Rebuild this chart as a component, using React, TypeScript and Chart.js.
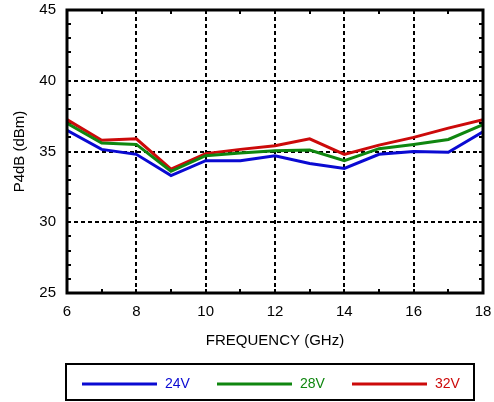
import React, { useEffect, useRef } from "react";
import { Chart, registerables } from "chart.js";

Chart.register(...registerables);

// Frequency sweep (GHz) and saturated output power at 4 dB compression (dBm)
const frequencies = [6, 7, 8, 9, 10, 11, 12, 13, 14, 15, 16, 17, 18];
const p24V = [36.5, 35.15, 34.8, 33.3, 34.35, 34.35, 34.7, 34.15, 33.8, 34.8, 35.0, 34.95, 36.4];
const p28V = [37.0, 35.6, 35.5, 33.6, 34.7, 34.9, 35.05, 35.1, 34.35, 35.2, 35.5, 35.85, 36.9];
const p32V = [37.25, 35.8, 35.9, 33.75, 34.85, 35.15, 35.4, 35.9, 34.8, 35.45, 36.0, 36.65, 37.25];

const seriesLabels = ["24V", "28V", "32V"];
const seriesColors = ["#0a0ad2", "#0f860f", "#cc0a0a"];

const X_MIN = 6;
const X_MAX = 18;
const Y_MIN = 25;
const Y_MAX = 45;

const FONT = '"Liberation Sans", Arial, Helvetica, sans-serif';

// Dashed interior grid, inward minor ticks and the heavy plot frame
const framePlugin = {
  id: "frame",
  beforeDatasetsDraw(chart: any) {
    const { ctx, chartArea: a, scales } = chart;
    const xs = scales.x;
    const ys = scales.y;
    ctx.save();
    ctx.strokeStyle = "#000";
    ctx.lineWidth = 2;
    ctx.setLineDash([4, 3]);
    xs.ticks.forEach((t: any) => {
      if (t.value <= X_MIN || t.value >= X_MAX) return;
      const px = Math.round(xs.getPixelForValue(t.value));
      ctx.beginPath();
      ctx.moveTo(px, a.top);
      ctx.lineTo(px, a.bottom);
      ctx.stroke();
    });
    ys.ticks.forEach((t: any) => {
      if (t.value <= Y_MIN || t.value >= Y_MAX) return;
      const py = Math.round(ys.getPixelForValue(t.value));
      ctx.beginPath();
      ctx.moveTo(a.left, py);
      ctx.lineTo(a.right, py);
      ctx.stroke();
    });
    ctx.setLineDash([]);
    const len = 4;
    for (let v = X_MIN + 1; v < X_MAX; v += 1) {
      const px = Math.round(xs.getPixelForValue(v));
      ctx.beginPath();
      ctx.moveTo(px, a.bottom);
      ctx.lineTo(px, a.bottom - len);
      ctx.moveTo(px, a.top);
      ctx.lineTo(px, a.top + len);
      ctx.stroke();
    }
    for (let v = Y_MIN + 1; v < Y_MAX; v += 1) {
      const py = Math.round(ys.getPixelForValue(v));
      ctx.beginPath();
      ctx.moveTo(a.left, py);
      ctx.lineTo(a.left + len, py);
      ctx.moveTo(a.right, py);
      ctx.lineTo(a.right - len, py);
      ctx.stroke();
    }
    ctx.restore();
  },
  afterDatasetsDraw(chart: any) {
    const { ctx, chartArea: a } = chart;
    ctx.save();
    ctx.strokeStyle = "#000";
    ctx.lineWidth = 3;
    ctx.strokeRect(a.left, a.top, a.right - a.left, a.bottom - a.top);
    ctx.restore();
  },
};

// Boxed legend under the axis title
const boxLegendPlugin = {
  id: "boxLegend",
  afterDraw(chart: any) {
    const { ctx, chartArea: a } = chart;
    const left = a.left - 1;
    const right = a.right - 9;
    const top = 364;
    const bottom = 400;
    ctx.save();
    ctx.strokeStyle = "#000";
    ctx.lineWidth = 2;
    ctx.strokeRect(left, top, right - left, bottom - top);
    const midY = (top + bottom) / 2 + 2;
    const step = 135;
    ctx.font = `14px ${FONT}`;
    ctx.textBaseline = "middle";
    ctx.textAlign = "left";
    chart.data.datasets.forEach((ds: any, i: number) => {
      const x0 = left + 16 + i * step;
      ctx.strokeStyle = ds.borderColor;
      ctx.lineWidth = 3;
      ctx.beginPath();
      ctx.moveTo(x0, midY);
      ctx.lineTo(x0 + 75, midY);
      ctx.stroke();
      ctx.fillStyle = ds.borderColor;
      ctx.fillText(ds.label, x0 + 83, midY);
    });
    ctx.restore();
  },
};

export default function App() {
  const canvasRef = useRef<HTMLCanvasElement | null>(null);

  useEffect(() => {
    if (!canvasRef.current) return;
    const series = [p24V, p28V, p32V];
    const chart = new Chart(canvasRef.current, {
      type: "line",
      data: {
        datasets: series.map((vals, i) => ({
          label: seriesLabels[i],
          data: frequencies.map((f, j) => ({ x: f, y: vals[j] })),
          borderColor: seriesColors[i],
          backgroundColor: seriesColors[i],
          borderWidth: 3,
          pointRadius: 0,
          tension: 0,
          fill: false,
        })),
      },
      options: {
        responsive: false,
        animation: false,
        layout: { padding: { top: 10, right: 11, bottom: 49, left: 0 } },
        plugins: {
          legend: { display: false },
          tooltip: { enabled: false },
        },
        scales: {
          x: {
            type: "linear",
            min: X_MIN,
            max: X_MAX,
            ticks: {
              stepSize: 2,
              color: "#000",
              padding: 10,
              font: { family: FONT, size: 15 },
              maxRotation: 0,
            },
            grid: { display: false, drawTicks: false },
            border: { display: false },
            title: {
              display: true,
              text: "FREQUENCY (GHz)",
              color: "#000",
              font: { family: FONT, size: 15 },
              padding: { top: 0, bottom: 3 },
            },
            afterFit(scale: any) {
              scale.height = 60;
              scale.paddingLeft = 0;
              scale.paddingRight = 0;
            },
          },
          y: {
            type: "linear",
            min: Y_MIN,
            max: Y_MAX,
            ticks: {
              stepSize: 5,
              color: "#000",
              padding: 11,
              font: { family: FONT, size: 15 },
            },
            grid: { display: false, drawTicks: false },
            border: { display: false },
            title: {
              display: true,
              text: "P4dB (dBm)",
              color: "#000",
              font: { family: FONT, size: 15 },
              padding: { top: 11, bottom: 0 },
            },
            afterFit(scale: any) {
              scale.width = 67;
              scale.paddingTop = 0;
              scale.paddingBottom = 0;
            },
          },
        },
      },
      plugins: [framePlugin, boxLegendPlugin],
    });
    return () => chart.destroy();
  }, []);

  return (
    <div style={{ position: "fixed", left: 0, top: 0, width: 494, height: 402, background: "#fff" }}>
      <canvas ref={canvasRef} width={494} height={402} />
    </div>
  );
}
